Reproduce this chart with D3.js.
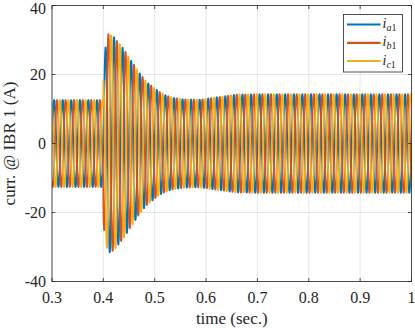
<!DOCTYPE html>
<html>
<head>
<meta charset="utf-8">
<script src="https://cdn.jsdelivr.net/npm/d3@7"></script>
<style>
html,body{margin:0;padding:0;background:#fff;}
svg{display:block;}
</style>
</head>
<body>
<svg id="chart" width="415" height="328" font-family="'Liberation Serif', 'DejaVu Serif', serif"></svg>
<script>
// ---- data ----
const xTicks = [0.3, 0.4, 0.5, 0.6, 0.7, 0.8, 0.9, 1];
const xTickLabels = ["0.3", "0.4", "0.5", "0.6", "0.7", "0.8", "0.9", "1"];
const yTicks = [-40, -20, 0, 20, 40];
const yTickLabels = ["-40", "-20", "0", "20", "40"];
const seriesNames = ["a", "b", "c"];
const seriesColors = ["#0072BD", "#D95319", "#EDB120"];
// phase angle of each current (degrees)
const phaseDeg = [0, -120, 120];
const freqHz = 60;
// envelope (peak amplitude, A)
const envTime = [0.3, 0.3999, 0.4001, 0.4014, 0.4042, 0.4069, 0.4097, 0.415, 0.421, 0.426, 0.432, 0.440, 0.446, 0.452, 0.460, 0.466, 0.472, 0.480, 0.486, 0.493, 0.500, 0.507, 0.514, 0.521, 0.528, 0.535, 0.556, 0.588, 0.621, 0.660, 0.700, 1.0];
const envAmp  = [12.6, 12.6, 22.0, 25.0, 27.8, 30.2, 31.7, 31.4, 30.8, 29.8, 28.8, 27.3, 25.9, 24.4, 22.8, 21.3, 20.1, 18.6, 17.6, 16.8, 16.0, 15.2, 14.5, 14.0, 13.6, 13.3, 12.8, 12.7, 13.4, 14.2, 14.3, 14.3];

// ---- drawing ----
const svg = d3.select("#chart");
const FONT = "'Liberation Serif', 'DejaVu Serif', serif";
const L = 52, R = 411.5, T = 5.5, B = 281.5;
const x = d3.scaleLinear().domain([0.3, 1]).range([L, R]);
const y = d3.scaleLinear().domain([-40, 40]).range([B, T]);
const env = d3.scaleLinear().domain(envTime).range(envAmp);

// grid
const grid = svg.append("g");
xTicks.forEach(t => grid.append("line").attr("x1", x(t)).attr("x2", x(t)).attr("y1", T).attr("y2", B)
  .attr("stroke", "#e6e6e6").attr("stroke-width", 1));
yTicks.forEach(t => grid.append("line").attr("x1", L).attr("x2", R).attr("y1", y(t)).attr("y2", y(t))
  .attr("stroke", "#e6e6e6").attr("stroke-width", 1));

// series
const dt = 0.0002;
const times = d3.range(0.3, 1.0 + dt / 2, dt);
svg.append("clipPath").attr("id", "clip").append("rect")
  .attr("x", L).attr("y", T).attr("width", R - L).attr("height", B - T);
const line = d3.line().x(d => x(d[0])).y(d => y(d[1]));
const plot = svg.append("g").attr("clip-path", "url(#clip)");
seriesNames.forEach((n, i) => {
  const ph = phaseDeg[i] * Math.PI / 180;
  const pts = times.map(t => [t, env(t) * Math.sin(2 * Math.PI * freqHz * t + ph)]);
  plot.append("path").attr("d", line(pts)).attr("fill", "none")
    .attr("stroke", seriesColors[i]).attr("stroke-width", 1.8).attr("stroke-linejoin", "round");
});

// axes box
const ax = "#262626";
svg.append("rect").attr("x", L).attr("y", T).attr("width", R - L).attr("height", B - T)
  .attr("fill", "none").attr("stroke", ax).attr("stroke-width", 0.8);
const tl = 3.5;
xTicks.forEach((t, i) => {
  svg.append("line").attr("x1", x(t)).attr("x2", x(t)).attr("y1", B).attr("y2", B - tl).attr("stroke", ax).attr("stroke-width", 0.8);
  svg.append("line").attr("x1", x(t)).attr("x2", x(t)).attr("y1", T).attr("y2", T + tl).attr("stroke", ax).attr("stroke-width", 0.8);
  svg.append("text").attr("x", x(t)).attr("y", 302.5).attr("text-anchor", "middle").attr("font-family", FONT)
    .attr("font-size", 16).attr("fill", ax).text(xTickLabels[i]);
});
yTicks.forEach((t, i) => {
  svg.append("line").attr("x1", L).attr("x2", L + tl).attr("y1", y(t)).attr("y2", y(t)).attr("stroke", ax).attr("stroke-width", 0.8);
  svg.append("line").attr("x1", R).attr("x2", R - tl).attr("y1", y(t)).attr("y2", y(t)).attr("stroke", ax).attr("stroke-width", 0.8);
  svg.append("text").attr("x", 46).attr("y", Math.max(y(t) + 5.5, 13.5)).attr("text-anchor", "end").attr("font-family", FONT)
    .attr("font-size", 16).attr("fill", ax).text(yTickLabels[i]);
});

// axis labels
svg.append("text").attr("x", (L + R) / 2).attr("y", 324).attr("text-anchor", "middle").attr("font-family", FONT)
  .attr("font-size", 17).attr("fill", ax).text("time (sec.)");
svg.append("text").attr("transform", `translate(15,${(T + B) / 2}) rotate(-90)`).attr("text-anchor", "middle")
  .attr("font-family", FONT).attr("font-size", 17).attr("fill", ax).text("curr. @ IBR 1 (A)");

// legend
const lg = svg.append("g");
lg.append("rect").attr("x", 343.5).attr("y", 14.5).attr("width", 59).attr("height", 57.5)
  .attr("fill", "#fff").attr("stroke", "#262626").attr("stroke-width", 0.8);
const rowY = [24.5, 42.8, 61];
seriesNames.forEach((n, i) => {
  lg.append("line").attr("x1", 347).attr("x2", 380.5).attr("y1", rowY[i]).attr("y2", rowY[i])
    .attr("stroke", seriesColors[i]).attr("stroke-width", 2.2);
  const tx = lg.append("text").attr("x", 382.5).attr("y", rowY[i] + 3.5).attr("font-family", FONT)
    .attr("font-size", 14).attr("fill", ax);
  tx.append("tspan").attr("font-style", "italic").text("i");
  tx.append("tspan").attr("font-size", 10).attr("dy", 3).attr("font-style", "italic").text(n);
  tx.append("tspan").attr("font-size", 10).text("1");
});
</script>
</body>
</html>
